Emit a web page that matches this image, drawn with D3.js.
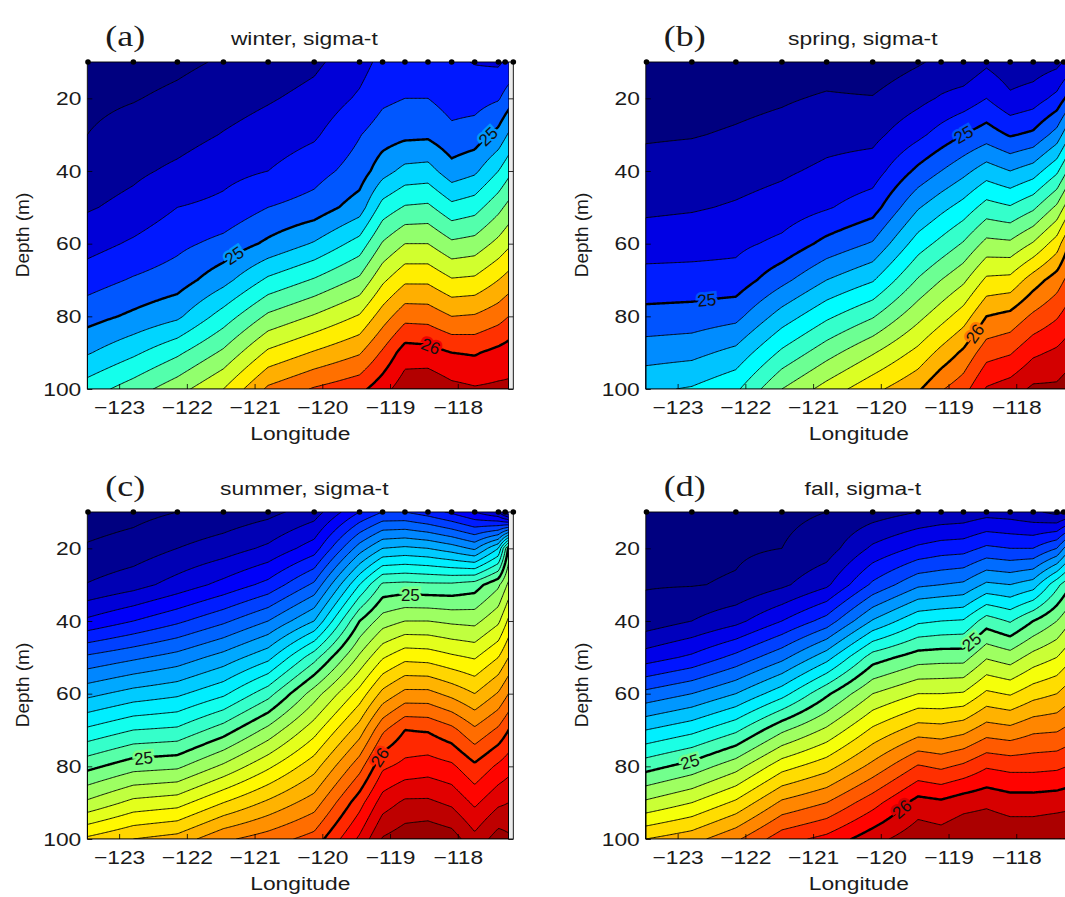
<!DOCTYPE html>
<html>
<head>
<meta charset="utf-8">
<script src="https://cdn.jsdelivr.net/npm/d3@7/dist/d3.min.js"></script>
<style>
  body { margin: 0; background: #fff; }
  text { font-family: "Liberation Sans", Arial, sans-serif; fill: #1a1a1a; }
</style>
</head>
<body>
<svg id="fig" width="1065" height="897"></svg>
<script>
// station longitudes (black dots along the top) and the columns of the grid
var stationLon = [-123.46, -122.79, -122.14, -121.46, -120.80, -120.12, -119.45, -119.11, -118.78, -118.44, -118.09, -117.75, -117.40, -117.30, -117.18];
var gridLon = [-123.47, -122.79, -122.14, -121.46, -120.80, -120.12, -119.45, -119.11, -118.78, -118.44, -118.09, -117.75, -117.40, -117.25];
var depths = [10, 20, 30, 40, 50, 60, 70, 80, 90, 100];

// sigma-t profiles, one array per grid column, values at the depths above
var winter = [
  [24.56, 24.58, 24.60, 24.645, 24.69, 24.76, 24.855, 24.96, 25.09, 25.25],
  [24.56, 24.595, 24.635, 24.68, 24.73, 24.815, 24.91, 25.02, 25.18, 25.35],
  [24.58, 24.62, 24.66, 24.72, 24.80, 24.875, 24.95, 25.08, 25.28, 25.46],
  [24.61, 24.655, 24.705, 24.77, 24.825, 24.93, 25.065, 25.245, 25.42, 25.60],
  [24.64, 24.69, 24.745, 24.80, 24.90, 25.02, 25.22, 25.42, 25.62, 25.82],
  [24.68, 24.73, 24.785, 24.86, 24.94, 25.11, 25.31, 25.51, 25.71, 25.91],
  [24.76, 24.815, 24.895, 24.945, 25.05, 25.24, 25.42, 25.61, 25.79, 25.97],
  [24.83, 24.88, 24.95, 25.06, 25.24, 25.41, 25.58, 25.75, 25.915, 26.06],
  [24.84, 24.90, 24.975, 25.13, 25.31, 25.50, 25.68, 25.865, 26.05, 26.16],
  [24.84, 24.90, 24.98, 25.14, 25.32, 25.50, 25.68, 25.86, 26.04, 26.18],
  [24.82, 24.86, 24.925, 25.04, 25.23, 25.42, 25.61, 25.80, 26.00, 26.13],
  [24.795, 24.86, 24.945, 25.08, 25.26, 25.44, 25.62, 25.81, 25.99, 26.11],
  [24.785, 24.89, 25.03, 25.20, 25.37, 25.53, 25.70, 25.86, 26.03, 26.12],
  [24.82, 24.95, 25.11, 25.27, 25.43, 25.58, 25.74, 25.90, 26.05, 26.12]
];
var spring = [
  [24.62, 24.655, 24.69, 24.73, 24.78, 24.85, 24.94, 25.03, 25.155, 25.28],
  [24.625, 24.66, 24.695, 24.74, 24.79, 24.86, 24.94, 25.04, 25.17, 25.31],
  [24.64, 24.675, 24.71, 24.76, 24.81, 24.875, 24.94, 25.07, 25.23, 25.38],
  [24.65, 24.69, 24.73, 24.785, 24.84, 24.925, 25.07, 25.245, 25.42, 25.60],
  [24.66, 24.71, 24.765, 24.82, 24.89, 25.03, 25.20, 25.38, 25.56, 25.74],
  [24.64, 24.705, 24.77, 24.85, 24.955, 25.11, 25.29, 25.49, 25.69, 25.87],
  [24.69, 24.77, 24.875, 25.025, 25.19, 25.35, 25.51, 25.67, 25.83, 25.985],
  [24.72, 24.81, 24.94, 25.10, 25.27, 25.43, 25.60, 25.76, 25.93, 26.09],
  [24.72, 24.84, 25.00, 25.17, 25.34, 25.51, 25.68, 25.85, 26.02, 26.16],
  [24.78, 24.90, 25.05, 25.25, 25.44, 25.63, 25.82, 26.00, 26.16, 26.31],
  [24.73, 24.82, 24.99, 25.20, 25.41, 25.62, 25.83, 26.03, 26.19, 26.35],
  [24.74, 24.85, 25.02, 25.25, 25.48, 25.71, 25.95, 26.12, 26.28, 26.42],
  [24.77, 24.93, 25.14, 25.38, 25.62, 25.85, 26.05, 26.19, 26.32, 26.42],
  [24.82, 25.02, 25.26, 25.50, 25.74, 25.98, 26.12, 26.24, 26.35, 26.45]
];
var summer = [
  [23.55, 23.61, 23.705, 23.92, 24.22, 24.47, 24.72, 24.97, 25.22, 25.52],
  [23.57, 23.64, 23.76, 24.00, 24.28, 24.54, 24.80, 25.06, 25.33, 25.60],
  [23.60, 23.70, 23.84, 24.08, 24.34, 24.58, 24.82, 25.08, 25.36, 25.64],
  [23.63, 23.75, 23.93, 24.18, 24.44, 24.68, 24.95, 25.22, 25.50, 25.78],
  [23.67, 23.82, 24.03, 24.30, 24.57, 24.86, 25.13, 25.38, 25.62, 25.85],
  [23.75, 23.95, 24.22, 24.50, 24.86, 25.15, 25.36, 25.56, 25.75, 25.94],
  [24.00, 24.35, 24.70, 25.00, 25.22, 25.44, 25.65, 25.86, 26.06, 26.22],
  [24.10, 24.50, 24.92, 25.15, 25.39, 25.63, 25.88, 26.08, 26.25, 26.41],
  [24.10, 24.52, 24.93, 25.20, 25.47, 25.73, 26.00, 26.13, 26.32, 26.46],
  [24.05, 24.50, 24.92, 25.20, 25.46, 25.73, 25.99, 26.15, 26.32, 26.48],
  [23.98, 24.45, 24.92, 25.18, 25.42, 25.67, 25.93, 26.12, 26.28, 26.45],
  [23.90, 24.38, 24.95, 25.17, 25.39, 25.60, 25.82, 26.02, 26.18, 26.33],
  [23.80, 24.60, 25.08, 25.28, 25.50, 25.71, 25.92, 26.12, 26.28, 26.45],
  [23.60, 25.02, 25.22, 25.42, 25.60, 25.80, 26.00, 26.16, 26.30, 26.42]
];
var fall = [
  [23.86, 23.875, 23.893, 23.94, 24.15, 24.43, 24.70, 24.96, 25.22, 25.50],
  [23.86, 23.875, 23.895, 24.00, 24.22, 24.50, 24.77, 25.04, 25.30, 25.56],
  [23.87, 23.885, 23.91, 24.07, 24.33, 24.60, 24.88, 25.16, 25.42, 25.68],
  [23.88, 23.90, 23.98, 24.20, 24.47, 24.76, 25.08, 25.36, 25.62, 25.86],
  [23.90, 23.95, 24.08, 24.34, 24.66, 24.98, 25.22, 25.46, 25.70, 25.93],
  [23.95, 24.12, 24.32, 24.61, 24.95, 25.20, 25.42, 25.63, 25.86, 26.06],
  [24.00, 24.22, 24.48, 24.78, 25.05, 25.30, 25.55, 25.81, 26.04, 26.17],
  [24.02, 24.25, 24.50, 24.80, 25.06, 25.30, 25.54, 25.78, 26.02, 26.15],
  [24.03, 24.26, 24.52, 24.81, 25.06, 25.31, 25.57, 25.82, 26.06, 26.19],
  [24.06, 24.32, 24.62, 24.95, 25.19, 25.42, 25.65, 25.89, 26.08, 26.20],
  [24.05, 24.30, 24.60, 24.89, 25.15, 25.39, 25.63, 25.87, 26.05, 26.18],
  [24.02, 24.30, 24.65, 25.00, 25.24, 25.46, 25.68, 25.87, 26.05, 26.18],
  [23.97, 24.40, 24.87, 25.10, 25.30, 25.50, 25.69, 25.88, 26.06, 26.20],
  [24.00, 24.55, 24.96, 25.17, 25.36, 25.55, 25.72, 25.90, 26.07, 26.20]
];

// contour label positions: [level, longitude]
var winterLabels = [[25, -121.30], [25, -117.55], [26, -118.40]];
var springLabels = [[25, -122.57], [25, -118.78], [26, -118.61]];
var summerLabels = [[25, -122.64], [25, -118.70], [26, -119.15]];
var fallLabels   = [[25, -122.82], [25, -118.66], [26, -119.69]];

var xTicks = [-123, -122, -121, -120, -119, -118];
var yTicks = [20, 40, 60, 80, 100];
var boldLevels = [25, 26];
var levelStep = 0.1;

var panels = [
  {tag: "(a)", title: "winter, sigma-t", prof: winter, labels: winterLabels, left: 87.3, top: 62},
  {tag: "(b)", title: "spring, sigma-t", prof: spring, labels: springLabels, left: 645.8, top: 62},
  {tag: "(c)", title: "summer, sigma-t", prof: summer, labels: summerLabels, left: 87.3, top: 512},
  {tag: "(d)", title: "fall, sigma-t",   prof: fall,   labels: fallLabels,   left: 645.8, top: 512}
];

var W = 426, H = 327, stretch = 1.2;
var svg = d3.select("#fig");

// MATLAB style jet colormap
function jet(t) {
  t = Math.max(0, Math.min(1, t));
  var c = function(v) { return Math.max(0, Math.min(1, v)) * 255; };
  return d3.rgb(c(Math.min(4 * t - 1.5, -4 * t + 4.5)),
                c(Math.min(4 * t - 0.5, -4 * t + 3.5)),
                c(Math.min(4 * t + 0.5, -4 * t + 2.5))).toString();
}

// bilinear lookup in a profile table
function makeField(prof) {
  return function(lon, dep) {
    var k = Math.max(0, Math.min(gridLon.length - 2, d3.bisectRight(gridLon, lon) - 1));
    var fx = Math.max(0, Math.min(1, (lon - gridLon[k]) / (gridLon[k + 1] - gridLon[k])));
    var dj = (dep - depths[0]) / (depths[1] - depths[0]);
    var j = Math.max(0, Math.min(depths.length - 2, Math.floor(dj)));
    var fy = Math.max(0, Math.min(1, dj - j));
    var a = prof[k][j] * (1 - fy) + prof[k][j + 1] * fy;
    var b = prof[k + 1][j] * (1 - fy) + prof[k + 1][j + 1] * fy;
    return a * (1 - fx) + b * fx;
  };
}

function crossDepth(f, lon, L) {
  var prev = f(lon, 10);
  for (var d = 10.25; d <= 100; d += 0.25) {
    var v = f(lon, d);
    if ((prev - L) * (v - L) <= 0) return d;
    prev = v;
  }
  return null;
}

panels.forEach(function(p, pi) {
  var x = d3.scaleLinear().domain([-123.47, -117.18]).range([p.left, p.left + W]);
  var y = d3.scaleLinear().domain([10, 100]).range([p.top, p.top + H]);
  var g = svg.append("g");
  var f = makeField(p.prof);

  var all = d3.merge(p.prof);
  var zmin = d3.min(all), zmax = d3.max(all);
  var levels = d3.range(Math.ceil(zmin / levelStep - 1e-6), Math.floor(zmax / levelStep + 1e-6) + 1)
    .map(function(v) { return Math.round(v * levelStep * 10) / 10; });
  var colorOf = function(L) { return jet((L - zmin) / (zmax - zmin)); };

  // fine grid for d3.contours
  var nx = 320, ny = 181, lon0 = gridLon[0], lon1 = gridLon[gridLon.length - 1];
  var vals = new Array(nx * ny);
  for (var j = 0; j < ny; j++) {
    var dep = 10 + 90 * j / (ny - 1);
    for (var i = 0; i < nx; i++) vals[j * nx + i] = f(lon0 + (lon1 - lon0) * i / (nx - 1), dep);
  }
  var contours = d3.contours().size([nx, ny]).thresholds(levels)(vals);
  var proj = d3.geoTransform({
    point: function(px, py) {
      this.stream.point(x(lon0 + (px - 0.5) / (nx - 1) * (lon1 - lon0)), y(10 + (py - 0.5) / (ny - 1) * 90));
    }
  });
  var path = d3.geoPath(proj);

  var clipId = "clip" + pi;
  svg.append("clipPath").attr("id", clipId).append("rect")
    .attr("x", x(lon0)).attr("y", p.top).attr("width", x(lon1) - x(lon0)).attr("height", H);

  // axes background (shows where there is no data)
  g.append("rect").attr("x", p.left).attr("y", p.top).attr("width", W).attr("height", H).attr("fill", "#ebebeb");

  var cg = g.append("g").attr("clip-path", "url(#" + clipId + ")");
  cg.append("rect").attr("x", x(lon0)).attr("y", p.top).attr("width", x(lon1) - x(lon0)).attr("height", H)
    .attr("fill", jet(0));
  cg.selectAll("path.band").data(contours).enter().append("path")
    .attr("class", "band")
    .attr("d", path)
    .attr("fill", function(c) { return colorOf(c.value); })
    .attr("stroke", "none");
  cg.selectAll("path.line").data(contours).enter().append("path")
    .attr("class", "line")
    .attr("d", path)
    .attr("fill", "none")
    .attr("stroke", "#000")
    .attr("stroke-width", function(c) { return boldLevels.indexOf(c.value) >= 0 ? 2.4 : 0.9; });

  // contour labels
  p.labels.forEach(function(lb) {
    var L = lb[0], lon = lb[1];
    var d = crossDepth(f, lon, L);
    if (d == null) return;
    var d1 = crossDepth(f, lon - 0.07, L), d2 = crossDepth(f, lon + 0.07, L);
    var ang = 0;
    if (d1 != null && d2 != null) {
      ang = Math.atan2(y(d2) - y(d1), x(lon + 0.07) - x(lon - 0.07)) * 180 / Math.PI;
    }
    g.append("text")
      .attr("transform", "translate(" + x(lon) + "," + y(d) + ") rotate(" + ang + ")")
      .attr("text-anchor", "middle")
      .attr("dy", "0.35em")
      .style("font-size", "17px")
      .style("fill", "#111")
      .style("paint-order", "stroke")
      .style("stroke", colorOf(L))
      .style("stroke-width", "5px")
      .text(L);
  });

  // axes
  var xa = g.append("g").attr("transform", "translate(0," + (p.top + H) + ")")
    .call(d3.axisBottom(x).tickValues(xTicks).tickFormat(d3.format("d")).tickSize(-5).tickPadding(12));
  var ya = g.append("g").attr("transform", "translate(" + p.left + ",0)")
    .call(d3.axisLeft(y).tickValues(yTicks).tickFormat(d3.format("d")).tickSize(-5).tickPadding(5));
  g.append("g").attr("transform", "translate(" + (p.left + W) + ",0)")
    .call(d3.axisRight(y).tickValues(yTicks).tickSize(-5).tickFormat(""));
  [xa, ya].forEach(function(a) {
    a.selectAll("text").style("font-size", "19px").attr("transform", "scale(" + stretch + ",1)");
  });
  g.selectAll(".domain").remove();
  g.selectAll(".tick line").attr("stroke", "#000").attr("stroke-width", 0.8);
  g.append("rect").attr("x", p.left).attr("y", p.top).attr("width", W).attr("height", H)
    .attr("fill", "none").attr("stroke", "#000").attr("stroke-width", 0.9);

  // stations
  g.selectAll("circle.st").data(stationLon).enter().append("circle")
    .attr("cx", function(d) { return x(d); })
    .attr("cy", p.top)
    .attr("r", 2.8)
    .attr("fill", "#000");

  // texts
  g.append("text")
    .attr("transform", "translate(" + (p.left + W / 2) + "," + (p.top + H + 51) + ") scale(" + stretch + ",1)")
    .attr("text-anchor", "middle").style("font-size", "19px").text("Longitude");
  g.append("text")
    .attr("transform", "translate(" + (p.left - 58) + "," + (p.top + 173) + ") rotate(-90)")
    .attr("text-anchor", "middle").style("font-size", "19px").text("Depth (m)");
  g.append("text")
    .attr("transform", "translate(" + (p.left + 217) + "," + (p.top - 17) + ") scale(" + stretch + ",1)")
    .attr("text-anchor", "middle").style("font-size", "19px").text(p.title);
  g.append("text")
    .attr("transform", "translate(" + (p.left + 18) + "," + (p.top - 16) + ") scale(" + stretch + ",1)")
    .style("font-family", "'Liberation Serif', 'Times New Roman', serif")
    .style("font-size", "30px").text(p.tag);
});
</script>
</body>
</html>
